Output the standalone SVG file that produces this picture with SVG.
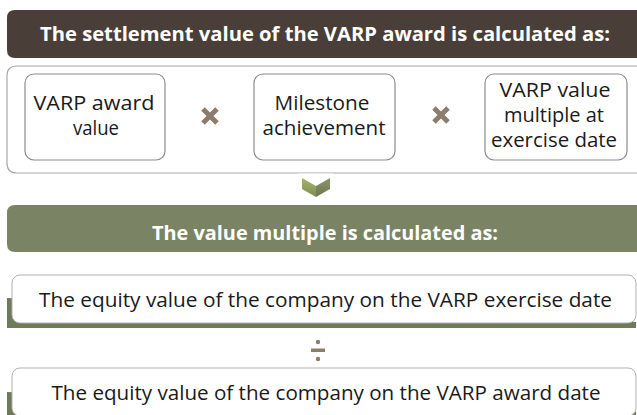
<svg xmlns="http://www.w3.org/2000/svg" width="637" height="415" viewBox="0 0 637 415">
<defs>
<style>
.hdr{font-family:"Open Sans","Liberation Sans",sans-serif;font-weight:bold;font-size:20px;fill:#ffffff;text-anchor:middle}
.lbl{font-family:"Open Sans","Liberation Sans",sans-serif;font-size:20px;fill:#1a1a1a;text-anchor:middle}
.box{fill:#ffffff;stroke:#8c8c8c;stroke-width:1.2}
.op{fill:#8a7e6a}
.x{stroke:#8a7e6a;stroke-width:5;fill:none}
</style>
<linearGradient id="chevL" x1="0" y1="0" x2="0" y2="1"><stop offset="0" stop-color="#a9b46a"/><stop offset="1" stop-color="#7f8a58"/></linearGradient>
<linearGradient id="chevR" x1="0" y1="0" x2="0" y2="1"><stop offset="0" stop-color="#8d9866"/><stop offset="1" stop-color="#6a7452"/></linearGradient>
</defs>
<rect width="637" height="415" fill="#ffffff"/>
<g id="header1">
<path d="M15,10 H640 V58 H15 Q7,58 7,50 V18 Q7,10 15,10 Z" fill="#4a3f38"/>
<text class="hdr" x="325" y="41" textLength="570" lengthAdjust="spacingAndGlyphs">The settlement value of the VARP award is calculated as:</text>
</g>
<g id="formula-frame">
<path d="M640,66 H17 Q7,66 7,76 V163 Q7,173 17,173 H640" fill="#ffffff" stroke="#a8a8a8" stroke-width="1.2"/>
</g>
<g id="varp-award-value">
<rect class="box" x="25" y="74" width="140" height="86" rx="9"/>
<text class="lbl" x="94" y="110" textLength="121" lengthAdjust="spacingAndGlyphs">VARP award</text>
<text class="lbl" x="96" y="135" textLength="46" lengthAdjust="spacingAndGlyphs">value</text>
</g>
<g id="times1"><path class="x" d="M203,109 L217,123 M217,109 L203,123"/></g>
<g id="milestone-achievement">
<rect class="box" x="254" y="74" width="141" height="86" rx="9"/>
<text class="lbl" x="322" y="110" textLength="95" lengthAdjust="spacingAndGlyphs">Milestone</text>
<text class="lbl" x="324" y="135" textLength="123" lengthAdjust="spacingAndGlyphs">achievement</text>
</g>
<g id="times2"><path class="x" d="M434,108 L448,122 M448,108 L434,122"/></g>
<g id="varp-value-multiple">
<rect class="box" x="485" y="74" width="142" height="86" rx="9"/>
<text class="lbl" x="555" y="97" textLength="111" lengthAdjust="spacingAndGlyphs">VARP value</text>
<text class="lbl" x="554" y="122" textLength="100" lengthAdjust="spacingAndGlyphs">multiple at</text>
<text class="lbl" x="554" y="147" textLength="126" lengthAdjust="spacingAndGlyphs">exercise date</text>
</g>
<g id="connectors">
<path d="M297,173.5 H334 L316,185 Z" fill="#ffffff"/>
<path d="M302,178 L316,186 L316,197 L302,189 Z" fill="url(#chevL)"/>
<path d="M330,178 L316,186 L316,197 L330,189 Z" fill="url(#chevR)"/>
</g>
<g id="header2">
<path d="M15,205 H640 V252 H15 Q7,252 7,244 V213 Q7,205 15,205 Z" fill="#7a8464"/>
<text class="hdr" x="325" y="240" textLength="346" lengthAdjust="spacingAndGlyphs">The value multiple is calculated as:</text>
</g>
<g id="exercise-date-value">
<path d="M7,298 V328 H636 V322 Z" fill="#6f7a5a"/>
<rect x="12" y="275" width="624" height="48" rx="8" fill="#ffffff" stroke="#b0b0b0" stroke-width="1"/>
<text class="lbl" x="325.5" y="307" textLength="573" lengthAdjust="spacingAndGlyphs">The equity value of the company on the VARP exercise date</text>
</g>
<g id="divide">
<circle class="op" cx="318" cy="342" r="2.2"/>
<rect class="op" x="311" y="348.5" width="14" height="3.5"/>
<circle class="op" cx="318" cy="359" r="2.2"/>
</g>
<g id="award-date-value">
<path d="M7,392 V420 H636 V412 Z" fill="#6f7a5a"/>
<rect x="12" y="368" width="624" height="48" rx="8" fill="#ffffff" stroke="#b0b0b0" stroke-width="1"/>
<text class="lbl" x="326" y="400" textLength="549" lengthAdjust="spacingAndGlyphs">The equity value of the company on the VARP award date</text>
</g>
</svg>
